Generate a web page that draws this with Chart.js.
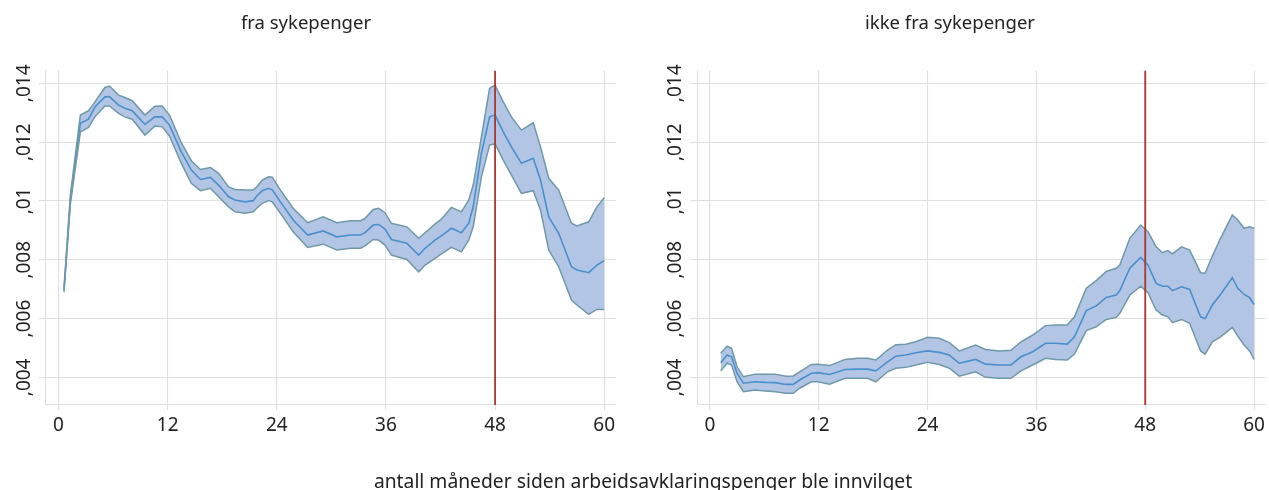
<!DOCTYPE html>
<html><head><meta charset="utf-8">
<script src="https://cdn.jsdelivr.net/npm/chart.js@4.4.1/dist/chart.umd.min.js"></script>
<style>
html,body{margin:0;padding:0;background:#fff;width:1269px;height:490px;overflow:hidden;font-family:"Noto Sans",sans-serif;color:#222}
.wrap{position:absolute;top:0;height:490px}
#w1{left:0;width:640px}
#w2{left:640px;width:629px}
.t{position:absolute;white-space:nowrap;transform:translate(-50%,-50%);font-size:18.5px;line-height:1}
</style></head><body>
<div class="wrap" id="w1"><canvas id="c1"></canvas></div>
<div class="wrap" id="w2"><canvas id="c2"></canvas></div>
<div class="t" style="left:306px;top:22px">fra sykepenger</div>
<div class="t" style="left:950px;top:22px">ikke fra sykepenger</div>
<div class="t" style="left:643px;top:481px;font-size:19.3px">antall måneder siden arbeidsavklaringspenger ble innvilget</div>
<script>
// ---- data: fra sykepenger ----
const months1 = [0.6,1.3,2.4,3.3,4.0,5.1,5.6,6.6,7.3,8.1,
 9.5,10.6,11.4,12.2,13.5,14.6,15.6,16.7,17.6,18.7,
 19.4,20.5,21.4,21.8,22.4,23.1,23.5,24.4,25.8,27.4,
 29.1,30.6,32.1,33.2,33.7,34.6,35.2,35.9,36.6,38.3,
 39.6,40.3,41.4,42.1,43.2,44.3,45.1,45.6,46.5,47.4,
 48.0,48.9,49.8,50.9,52.2,53.0,53.9,55.0,56.4,57.0,
 58.3,59.2,60.0];
const mid1 = [0.00697,0.01003,0.01264,0.01278,0.01320,0.01354,0.01355,0.01326,0.01315,0.01307,
 0.01260,0.01286,0.01286,0.01258,0.01167,0.01105,0.01073,0.01080,0.01054,0.01014,
 0.01003,0.00997,0.01001,0.01017,0.01035,0.01043,0.01038,0.00997,0.00935,0.00884,
 0.00898,0.00878,0.00884,0.00884,0.00892,0.00918,0.00920,0.00904,0.00869,0.00856,
 0.00816,0.00839,0.00867,0.00881,0.00907,0.00892,0.00924,0.00980,0.01162,0.01286,
 0.01292,0.01235,0.01184,0.01128,0.01145,0.01071,0.00946,0.00890,0.00776,0.00765,
 0.00756,0.00782,0.00797];
const hi1 = [0.00703,0.01020,0.01292,0.01307,0.01337,0.01386,0.01391,0.01360,0.01352,0.01341,
 0.01292,0.01322,0.01323,0.01292,0.01198,0.01137,0.01107,0.01114,0.01094,0.01048,
 0.01039,0.01037,0.01037,0.01048,0.01071,0.01082,0.01081,0.01037,0.00975,0.00926,
 0.00946,0.00926,0.00933,0.00933,0.00941,0.00971,0.00975,0.00960,0.00924,0.00912,
 0.00873,0.00892,0.00921,0.00938,0.00978,0.00963,0.01003,0.01054,0.01218,0.01383,
 0.01394,0.01337,0.01286,0.01241,0.01266,0.01184,0.01077,0.01037,0.00924,0.00915,
 0.00929,0.00980,0.01011];
const lo1 = [0.00690,0.00990,0.01235,0.01250,0.01286,0.01323,0.01323,0.01298,0.01286,0.01278,
 0.01224,0.01255,0.01252,0.01221,0.01128,0.01060,0.01035,0.01043,0.01014,0.00980,
 0.00963,0.00958,0.00963,0.00975,0.00992,0.01001,0.00997,0.00958,0.00895,0.00842,
 0.00853,0.00833,0.00839,0.00839,0.00847,0.00869,0.00867,0.00850,0.00816,0.00801,
 0.00759,0.00782,0.00805,0.00820,0.00842,0.00827,0.00867,0.00912,0.01082,0.01190,
 0.01194,0.01139,0.01088,0.01026,0.01035,0.00969,0.00833,0.00776,0.00663,0.00646,
 0.00614,0.00631,0.00631];

// ---- data: ikke fra sykepenger ----
const months2 = [1.2,1.9,2.4,3.0,3.7,5.0,6.1,7.2,8.4,9.2,
 9.9,11.2,11.9,13.2,14.9,16.3,17.4,18.3,19.6,20.5,
 21.6,22.7,24.0,25.3,26.4,27.5,29.3,30.4,31.9,33.2,
 34.3,35.6,37.0,38.1,39.4,40.2,41.5,42.6,43.7,44.8,
 45.2,46.3,47.5,48.3,49.2,49.9,50.5,51.0,52.0,52.9,
 54.1,54.6,55.4,56.3,57.6,58.2,58.9,59.5,60.0];
const mid2 = [0.00450,0.00476,0.00470,0.00414,0.00380,0.00385,0.00383,0.00382,0.00376,0.00376,
 0.00391,0.00414,0.00416,0.00410,0.00427,0.00428,0.00428,0.00422,0.00453,0.00472,
 0.00476,0.00484,0.00490,0.00485,0.00476,0.00448,0.00461,0.00445,0.00442,0.00442,
 0.00470,0.00487,0.00516,0.00516,0.00513,0.00538,0.00627,0.00643,0.00672,0.00680,
 0.00695,0.00771,0.00808,0.00782,0.00720,0.00710,0.00710,0.00695,0.00708,0.00699,
 0.00606,0.00600,0.00646,0.00682,0.00739,0.00703,0.00682,0.00671,0.00648];
const hi2 = [0.00482,0.00506,0.00499,0.00436,0.00402,0.00411,0.00411,0.00411,0.00404,0.00405,
 0.00419,0.00444,0.00445,0.00440,0.00461,0.00465,0.00465,0.00459,0.00493,0.00511,
 0.00513,0.00521,0.00536,0.00533,0.00518,0.00490,0.00510,0.00495,0.00490,0.00492,
 0.00521,0.00544,0.00576,0.00578,0.00578,0.00606,0.00703,0.00729,0.00760,0.00771,
 0.00782,0.00873,0.00918,0.00895,0.00844,0.00824,0.00831,0.00820,0.00844,0.00833,
 0.00756,0.00754,0.00813,0.00873,0.00952,0.00935,0.00907,0.00912,0.00907];
const lo2 = [0.00422,0.00448,0.00442,0.00385,0.00351,0.00357,0.00354,0.00351,0.00346,0.00346,
 0.00363,0.00385,0.00385,0.00377,0.00397,0.00397,0.00397,0.00385,0.00419,0.00431,
 0.00434,0.00442,0.00451,0.00444,0.00431,0.00404,0.00419,0.00400,0.00397,0.00397,
 0.00422,0.00442,0.00465,0.00461,0.00459,0.00479,0.00559,0.00572,0.00597,0.00604,
 0.00618,0.00680,0.00710,0.00688,0.00629,0.00612,0.00606,0.00586,0.00597,0.00584,
 0.00490,0.00479,0.00521,0.00538,0.00570,0.00540,0.00510,0.00490,0.00461];

const xTicks = [0,12,24,36,48,60];
const yTicks = [0.004,0.006,0.008,0.010,0.012,0.014];
const cutoffMonth = 48;

const BAND = '#b3c5e4', EDGE = '#6f98a9', MID = '#4a8fcd', RED = '#a8362c', GRID = '#dfdfdf';

function fmtY(v){ return v.toFixed(3).replace(/^0\./, ',').replace(/0$/, ''); }
function pts(xs, ys){ return xs.map((x,i)=>({x:x, y:ys[i]})); }

const cutoffPlugin = {
  id:'cutoff',
  afterDatasetsDraw(chart){
    const {ctx, chartArea:a, scales:{x}} = chart;
    const px = x.getPixelForValue(cutoffMonth);
    ctx.save();
    ctx.strokeStyle = RED; ctx.lineWidth = 1.8;
    ctx.beginPath(); ctx.moveTo(px, a.top); ctx.lineTo(px, a.bottom); ctx.stroke();
    ctx.restore();
  }
};

function makeChart(id, months, mid, lo, hi, padL, padR){
  return new Chart(document.getElementById(id), {
    type:'line',
    data:{datasets:[
      {data:pts(months, lo), borderColor:EDGE, borderWidth:1.5, pointRadius:0, fill:false, tension:0},
      {data:pts(months, hi), borderColor:EDGE, borderWidth:1.5, pointRadius:0, fill:'-1', backgroundColor:BAND, tension:0},
      {data:pts(months, mid), borderColor:MID, borderWidth:1.6, pointRadius:0, fill:false, tension:0}
    ]},
    options:{
      responsive:true, maintainAspectRatio:false, animation:false,
      layout:{padding:{left:padL, right:padR, top:70.7, bottom:45}},
      plugins:{legend:{display:false}, tooltip:{enabled:false}, filler:{drawTime:'beforeDatasetsDraw'}},
      scales:{
        x:{type:'linear', min:-1.38, max:61.3,
          afterBuildTicks:s=>{ s.ticks = xTicks.map(v=>({value:v})); },
          afterFit:s=>{ s.height = 40; },
          grid:{color:GRID, lineWidth:1.1, tickLength:5},
          border:{color:GRID, width:1.1},
          ticks:{color:'#222', font:{family:'"Noto Sans"', size:19}, padding:4, maxRotation:0, autoSkip:false,
            callback:v=>String(v)}
        },
        y:{type:'linear', min:0.00306, max:0.01443,
          afterBuildTicks:s=>{ s.ticks = yTicks.map(v=>({value:v})); },
          afterFit:s=>{ s.width = 46; },
          grid:{color:GRID, lineWidth:1.1, tickLength:7},
          border:{color:GRID, width:1.1},
          ticks:{color:'#222', font:{family:'"Noto Sans"', size:19}, padding:-4, minRotation:90, maxRotation:90,
            crossAlign:'center', autoSkip:false, callback:v=>fmtY(v)}
        }
      }
    },
    plugins:[cutoffPlugin]
  });
}

makeChart('c1', months1, mid1, lo1, hi1, 0, 24);
makeChart('c2', months2, mid2, lo2, hi2, 11.3, 2);
</script>
</body></html>
